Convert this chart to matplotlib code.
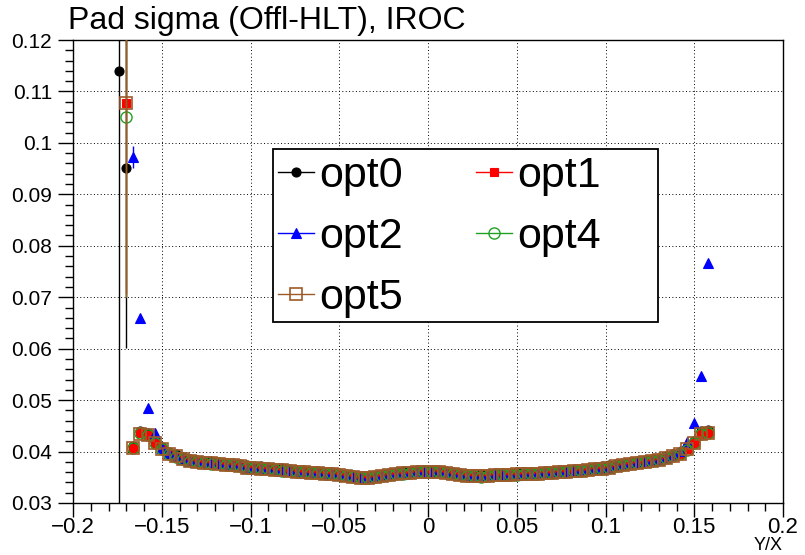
import numpy as np
import matplotlib
matplotlib.use("Agg")
import matplotlib.pyplot as plt
from matplotlib.lines import Line2D
from matplotlib.patches import Rectangle
from matplotlib.ticker import MultipleLocator, AutoMinorLocator

plt.rcParams['font.family'] = ['Liberation Sans', 'DejaVu Sans']

nan = np.nan

# bin centres in Y/X (0.004 wide bins)
BIN_CENTERS = np.round(np.arange(-0.174, 0.1581, 0.004), 3)

OPT0 = [0.1140, 0.0952,
        0.0410, 0.0440, 0.0437, 0.0420, 0.0408, 0.0400, 0.0395, 0.0390, 0.0386, 0.0383,
        0.0382, 0.0381, 0.0380, 0.0378, 0.0377, 0.0376, 0.0373, 0.0372, 0.0371, 0.0370,
        0.0368, 0.0368, 0.0366, 0.0365, 0.0364, 0.0363, 0.0363, 0.0361, 0.0360, 0.0359,
        0.0356, 0.0354, 0.0353, 0.0353, 0.0355, 0.0357, 0.0359, 0.0360, 0.0362, 0.0363,
        0.0364, 0.0365, 0.0365, 0.0364, 0.0362, 0.0361, 0.0359, 0.0357, 0.0356, 0.0356,
        0.0357, 0.0358, 0.0358, 0.0359, 0.0360, 0.0360, 0.0361, 0.0361, 0.0362, 0.0363,
        0.0364, 0.0365, 0.0366, 0.0367, 0.0368, 0.0370, 0.0371, 0.0373, 0.0375, 0.0377,
        0.0379, 0.0381, 0.0383, 0.0385, 0.0388, 0.0391, 0.0395, 0.0400, 0.0408, 0.0420,
        0.0440, 0.0442]

OPT1 = [nan, 0.1077,
        0.0406, 0.0436, 0.0433, 0.0416, 0.0404, 0.0396, 0.0391, 0.0386, 0.0382, 0.0379,
        0.0378, 0.0377, 0.0376, 0.0374, 0.0373, 0.0372, 0.0369, 0.0368, 0.0367, 0.0366,
        0.0364, 0.0364, 0.0362, 0.0361, 0.0360, 0.0359, 0.0359, 0.0357, 0.0356, 0.0355,
        0.0352, 0.0350, 0.0349, 0.0349, 0.0351, 0.0353, 0.0355, 0.0356, 0.0358, 0.0359,
        0.0360, 0.0361, 0.0361, 0.0360, 0.0358, 0.0357, 0.0355, 0.0353, 0.0352, 0.0352,
        0.0353, 0.0354, 0.0354, 0.0355, 0.0356, 0.0356, 0.0357, 0.0357, 0.0358, 0.0359,
        0.0360, 0.0361, 0.0362, 0.0363, 0.0364, 0.0366, 0.0367, 0.0369, 0.0371, 0.0373,
        0.0375, 0.0377, 0.0379, 0.0381, 0.0384, 0.0387, 0.0391, 0.0396, 0.0404, 0.0416,
        0.0435, 0.0437]

OPT2 = [nan, nan,
        0.0972, 0.0660, 0.0484, 0.0436, 0.0407, 0.0397, 0.0391, 0.0386, 0.0382, 0.0379,
        0.0377, 0.0377, 0.0375, 0.0374, 0.0373, 0.0371, 0.0369, 0.0368, 0.0366, 0.0366,
        0.0364, 0.0363, 0.0362, 0.0361, 0.0359, 0.0359, 0.0358, 0.0357, 0.0356, 0.0354,
        0.0352, 0.0350, 0.0348, 0.0349, 0.0351, 0.0353, 0.0354, 0.0356, 0.0357, 0.0359,
        0.0360, 0.0361, 0.0360, 0.0360, 0.0358, 0.0356, 0.0355, 0.0353, 0.0352, 0.0352,
        0.0353, 0.0354, 0.0355, 0.0355, 0.0355, 0.0356, 0.0357, 0.0358, 0.0358, 0.0359,
        0.0360, 0.0361, 0.0362, 0.0363, 0.0365, 0.0366, 0.0367, 0.0369, 0.0371, 0.0373,
        0.0375, 0.0377, 0.0379, 0.0381, 0.0384, 0.0388, 0.0393, 0.0402, 0.0418, 0.0455,
        0.0547, 0.0766]

OPT4 = [nan, 0.1051,
        0.0407, 0.0436, 0.0432, 0.0416, 0.0404, 0.0396, 0.0390, 0.0386, 0.0382, 0.0379,
        0.0378, 0.0376, 0.0376, 0.0374, 0.0373, 0.0371, 0.0369, 0.0368, 0.0367, 0.0366,
        0.0364, 0.0363, 0.0362, 0.0361, 0.0360, 0.0359, 0.0358, 0.0357, 0.0356, 0.0355,
        0.0352, 0.0350, 0.0348, 0.0349, 0.0351, 0.0353, 0.0355, 0.0356, 0.0357, 0.0359,
        0.0360, 0.0361, 0.0361, 0.0360, 0.0358, 0.0357, 0.0355, 0.0353, 0.0352, 0.0351,
        0.0353, 0.0354, 0.0354, 0.0355, 0.0355, 0.0356, 0.0357, 0.0357, 0.0358, 0.0359,
        0.0360, 0.0361, 0.0362, 0.0363, 0.0364, 0.0366, 0.0367, 0.0369, 0.0371, 0.0373,
        0.0375, 0.0377, 0.0379, 0.0381, 0.0384, 0.0387, 0.0391, 0.0396, 0.0403, 0.0416,
        0.0435, 0.0437]

OPT5 = [nan, 0.1077,
        0.0406, 0.0435, 0.0433, 0.0416, 0.0404, 0.0396, 0.0391, 0.0386, 0.0382, 0.0379,
        0.0378, 0.0377, 0.0376, 0.0374, 0.0373, 0.0372, 0.0369, 0.0368, 0.0367, 0.0366,
        0.0364, 0.0364, 0.0362, 0.0361, 0.0360, 0.0359, 0.0359, 0.0357, 0.0356, 0.0355,
        0.0352, 0.0350, 0.0349, 0.0349, 0.0351, 0.0353, 0.0355, 0.0356, 0.0358, 0.0359,
        0.0360, 0.0361, 0.0361, 0.0360, 0.0358, 0.0357, 0.0355, 0.0353, 0.0352, 0.0352,
        0.0353, 0.0354, 0.0354, 0.0355, 0.0356, 0.0356, 0.0357, 0.0357, 0.0358, 0.0359,
        0.0360, 0.0361, 0.0362, 0.0363, 0.0364, 0.0366, 0.0367, 0.0369, 0.0371, 0.0373,
        0.0375, 0.0377, 0.0379, 0.0381, 0.0384, 0.0387, 0.0391, 0.0396, 0.0404, 0.0416,
        0.0435, 0.0437]

# large uncertainties on the edge bins (bin centre -> error)
OPT0_ERR = {-0.174: 0.130, -0.170: 0.035}
OPT1_ERR = {-0.170: 0.037}
OPT2_ERR = {-0.166: 0.0021}
OPT4_ERR = {-0.170: 0.035}
OPT5_ERR = {-0.170: 0.0376}

LABELS = ['opt0', 'opt1', 'opt2', 'opt4', 'opt5']
SERIES = [OPT0, OPT1, OPT2, OPT4, OPT5]
ERRORS = [OPT0_ERR, OPT1_ERR, OPT2_ERR, OPT4_ERR, OPT5_ERR]

GREEN = '#22a022'
BROWN = '#9c5a28'
STYLES = [
    dict(color='black', marker='o', ms=6.5, mfc='black', mew=0.8),
    dict(color='red', marker='s', ms=6.3, mfc='red', mew=0.8),
    dict(color='blue', marker='^', ms=7.5, mfc='blue', mew=0.8),
    dict(color=GREEN, marker='o', ms=8, mfc='none', mew=1.0),
    dict(color=BROWN, marker='s', ms=8, mfc='none', mew=1.2),
]

W, H = 805, 555
fig = plt.figure(figsize=(W / 100, H / 100), dpi=100)
ax = fig.add_axes([73 / W, (H - 503) / H, 710 / W, 463 / H])

z = 3
for vals, errs, st in zip(SERIES, ERRORS, STYLES):
    ex = list(errs.keys())
    ey = [vals[int(np.argmin(np.abs(BIN_CENTERS - b)))] for b in ex]
    ax.errorbar(ex, ey, yerr=list(errs.values()), fmt='none', ecolor=st['color'],
                elinewidth=1.0, capsize=0, zorder=z)
    ax.plot(BIN_CENTERS, vals, linestyle='none', marker=st['marker'], ms=st['ms'],
            color=st['color'], mfc=st['mfc'], mec=st['color'], mew=st['mew'], zorder=z + 1)
    z += 2

ax.set_xlim(-0.2, 0.2)
ax.set_ylim(0.03, 0.12)
ax.xaxis.set_major_locator(MultipleLocator(0.05))
ax.xaxis.set_minor_locator(AutoMinorLocator(5))
ax.yaxis.set_major_locator(MultipleLocator(0.01))
ax.yaxis.set_minor_locator(AutoMinorLocator(5))
ax.xaxis.set_major_formatter(plt.FuncFormatter(lambda v, p: ('%g' % round(v, 3)).replace('-', '\u2212')))
ax.yaxis.set_major_formatter(plt.FuncFormatter(lambda v, p: '%g' % round(v, 3)))
ax.tick_params(which='major', direction='out', length=11, width=1)
ax.tick_params(which='minor', direction='out', length=6, width=1)
ax.tick_params(axis='y', which='major', labelsize=15, pad=4)
ax.tick_params(axis='x', which='major', labelsize=16, pad=0, length=10)
ax.grid(True, which='major', color='black', linestyle=(0, (1, 2.5)), linewidth=0.7)
for sp in ax.spines.values():
    sp.set_linewidth(1.0)

fig.text(68 / W, 1 - 21 / H, 'Pad sigma (Offl-HLT), IROC', fontsize=23,
         ha='left', va='center')
fig.text(783 / W, 1 - 546 / H, 'Y/X', fontsize=13, ha='right', va='center')

# legend box
fig.patches.append(Rectangle((273 / W, 1 - 322 / H), 385 / W, 173 / H,
                             transform=fig.transFigure, facecolor='white',
                             edgecolor='black', linewidth=1.3, zorder=19))

handles = []
for lab, st in zip(LABELS, STYLES):
    handles.append(Line2D([], [], color=st['color'], marker=st['marker'], ms=st['ms'],
                          mfc=st['mfc'], mec=st['color'], mew=st['mew'], lw=1.0, label=lab))
# two columns filled row by row
order = [0, 2, 4, 1, 3]
leg = fig.legend([handles[i] for i in order], [LABELS[i] for i in order], ncol=2,
                 loc='upper left', bbox_to_anchor=(278 / W, 1 - 156 / H),
                 bbox_transform=fig.transFigure, borderaxespad=0, fontsize=31,
                 handlelength=0.84, handletextpad=0.12, columnspacing=1.7,
                 labelspacing=0.49, borderpad=0, frameon=False)
leg.set_zorder(20)

fig.savefig('out.png', dpi=100)
